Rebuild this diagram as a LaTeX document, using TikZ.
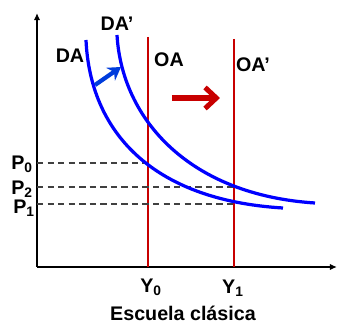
\documentclass[tikz,border=0pt]{standalone}
\usepackage{fontspec}
\setmainfont{Liberation Sans}
\usetikzlibrary{arrows.meta}
\definecolor{oared}{RGB}{200,0,0}
\definecolor{dablue}{RGB}{0,0,255}
\definecolor{shiftblue}{RGB}{0,60,220}

\begin{document}
\begin{tikzpicture}[x=0.025cm, y=0.025cm,
    lbl/.style={font=\fontsize{14}{16}\selectfont\bfseries, inner sep=0pt},
    axis/.style={line width=1.4pt, -{Latex[length=5pt,width=4.5pt]}},
    oaline/.style={oared, line width=1.5pt},
    daline/.style={dablue, line width=2.3pt},
    guide/.style={black!75, line width=0.8pt, dash pattern=on 4.5pt off 3pt}]
  % Scale: 1 unit = 1 px of the 338x328 figure, origin at lower left
  \useasboundingbox (0,0) rectangle (338,328);

  % Axes
  \coordinate (O) at (37,61);
  \coordinate (ytop) at (37,315);
  \coordinate (xend) at (337,61);
  \draw[axis] (O) -- (ytop);
  \draw[axis] (O) -- (xend);

  % Supply lines OA (Y0) and OA' (Y1)
  \coordinate (oa top) at (148,291);
  \coordinate (oa2 top) at (234,289);
  \draw[oaline] (oa top) -- (oa top |- O);
  \draw[oaline] (oa2 top) -- (oa2 top |- O);

  % Equilibria: P0 on OA, P2 and P1 on OA'
  \coordinate (e0) at (148,165);
  \coordinate (e2) at (234,141);
  \coordinate (e1) at (234,124);
  \draw[guide] (O |- e0) -- (e0);
  \draw[guide] (O |- e2) -- (e2);
  \draw[guide] (O |- e1) -- (e1);

  % Demand curves DA and DA'
  \draw[daline] (86,288) .. controls (90,198) and (150,128) .. (283,120);
  \draw[daline] (117,293) .. controls (122,208) and (190,133) .. (315,125);

  % Shift arrows
  \coordinate (da tail) at (95,243);
  \coordinate (da head) at (121,261);
  \draw[shiftblue, line width=3pt, -{Stealth[length=9pt,width=11pt]}] (da tail) -- (da head);
  \coordinate (oa tail) at (172,230);
  \coordinate (oa head) at (220,230);
  \draw[oared, line width=3.6pt, -{Straight Barb[length=8pt,width=15pt]}] (oa tail) -- (oa head);

  % Labels
  \node[lbl] (da) at (70,272) {DA};
  \node[lbl] (da2) at (117,304) {DA'};
  \node[lbl] (oa) at (169,268) {OA};
  \node[lbl] (oa2) at (253,263) {OA'};
  \node[lbl] (p0) at (22,164) {P\textsubscript{0}};
  \node[lbl] (p2) at (22,139) {P\textsubscript{2}};
  \node[lbl] (p1) at (24,120) {P\textsubscript{1}};
  \node[lbl] (y0) at (151,41) {Y\textsubscript{0}};
  \node[lbl] (y1) at (233,40) {Y\textsubscript{1}};
  \node[lbl] (title) at (183,15) {Escuela clásica};
\end{tikzpicture}
\end{document}
